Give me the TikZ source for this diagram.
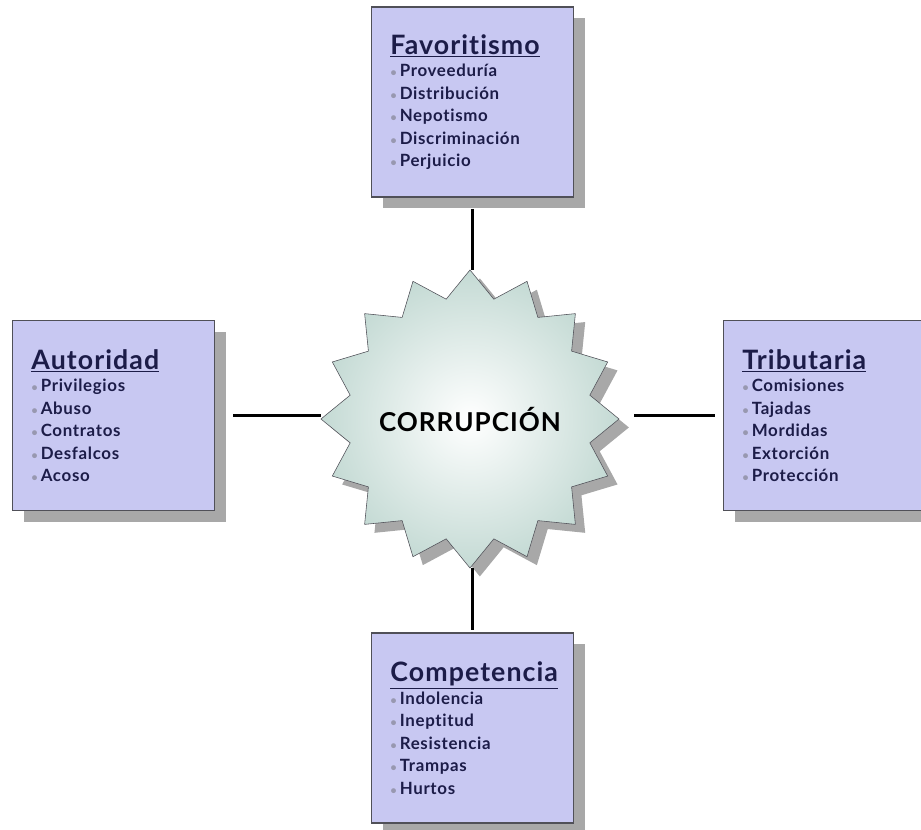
\documentclass[tikz,border=0pt]{standalone}
\usepackage{fontspec}
\setmainfont{Lato}[Ligatures=NoCommon]
\newfontfamily\spacedfont{Lato}[Ligatures=NoCommon, LetterSpace=4]
\usetikzlibrary{shapes.geometric,shadows}

\definecolor{boxfill}{HTML}{C8C8F2}
\definecolor{boxline}{HTML}{505058}
\definecolor{inktext}{HTML}{1C1C48}
\definecolor{dotgray}{HTML}{9898B0}
\definecolor{starfill}{HTML}{C4DAD4}
\definecolor{shadowgray}{HTML}{A8A8A8}

\newcommand{\itm}[1]{{\color{dotgray}\footnotesize\textbullet}\,#1}
\newcommand{\boxtitle}[1]{{\fontsize{19}{23}\selectfont\underline{#1}}}

\tikzset{
  areabox/.style={draw=boxline, fill=boxfill, text=inktext, thick,
    minimum height=4.75cm, text width=4.1cm, inner xsep=13.5pt,
    align=left, font=\spacedfont\fontsize{12}{16}\selectfont\bfseries,
    drop shadow={shadow xshift=8pt, shadow yshift=-8pt, fill=shadowgray, opacity=1}},
  corestar/.style={star, star points=16, star point ratio=1.22, inner sep=0pt,
    minimum size=7.45cm, draw=boxline, inner color=white, outer color=starfill,
    drop shadow={shadow xshift=7pt, shadow yshift=-6pt, fill=shadowgray, opacity=1},
    label={[font=\spacedfont\fontsize{18.5}{20}\selectfont\bfseries]center:#1}},
  link/.style={line width=1.6pt, black},
}

\begin{document}
\begin{tikzpicture}[x=0.025cm, y=-0.025cm]
  \useasboundingbox (0,0) rectangle (921,829);

  % centre
  \node[corestar=CORRUPCIÓN] (core) at (470,419) {};

  % the four areas
  \node[areabox] (fav) at (472.5,102) {\boxtitle{Favoritismo}\\
    \itm{Proveeduría}\\ \itm{Distribución}\\ \itm{Nepotismo}\\
    \itm{Discriminación}\\ \itm{Perjuicio}};
  \node[areabox] (aut) at (113.5,415.5) {\boxtitle{Autoridad}\\
    \itm{Privilegios}\\ \itm{Abuso}\\ \itm{Contratos}\\
    \itm{Desfalcos}\\ \itm{Acoso}};
  \node[areabox] (tri) at (824.5,415.5) {\boxtitle{Tributaria}\\
    \itm{Comisiones}\\ \itm{Tajadas}\\ \itm{Mordidas}\\
    \itm{Extorción}\\ \itm{Protección}};
  \node[areabox] (com) at (472.5,728) {\boxtitle{Competencia}\\
    \itm{Indolencia}\\ \itm{Ineptitud}\\ \itm{Resistencia}\\
    \itm{Trampas}\\ \itm{Hurtos}};

  % links
  \draw[link, shorten <=8pt] (fav.south) -- (fav.south |- core.north);
  \draw[link, shorten <=13pt] (aut.east) -- (aut.east -| core.west);
  \draw[link, shorten <=6pt, shorten >=10pt] (tri.west) -- (tri.west -| core.east);
  \draw[link, shorten <=2pt] (com.north) -- (com.north |- core.south);
\end{tikzpicture}
\end{document}
